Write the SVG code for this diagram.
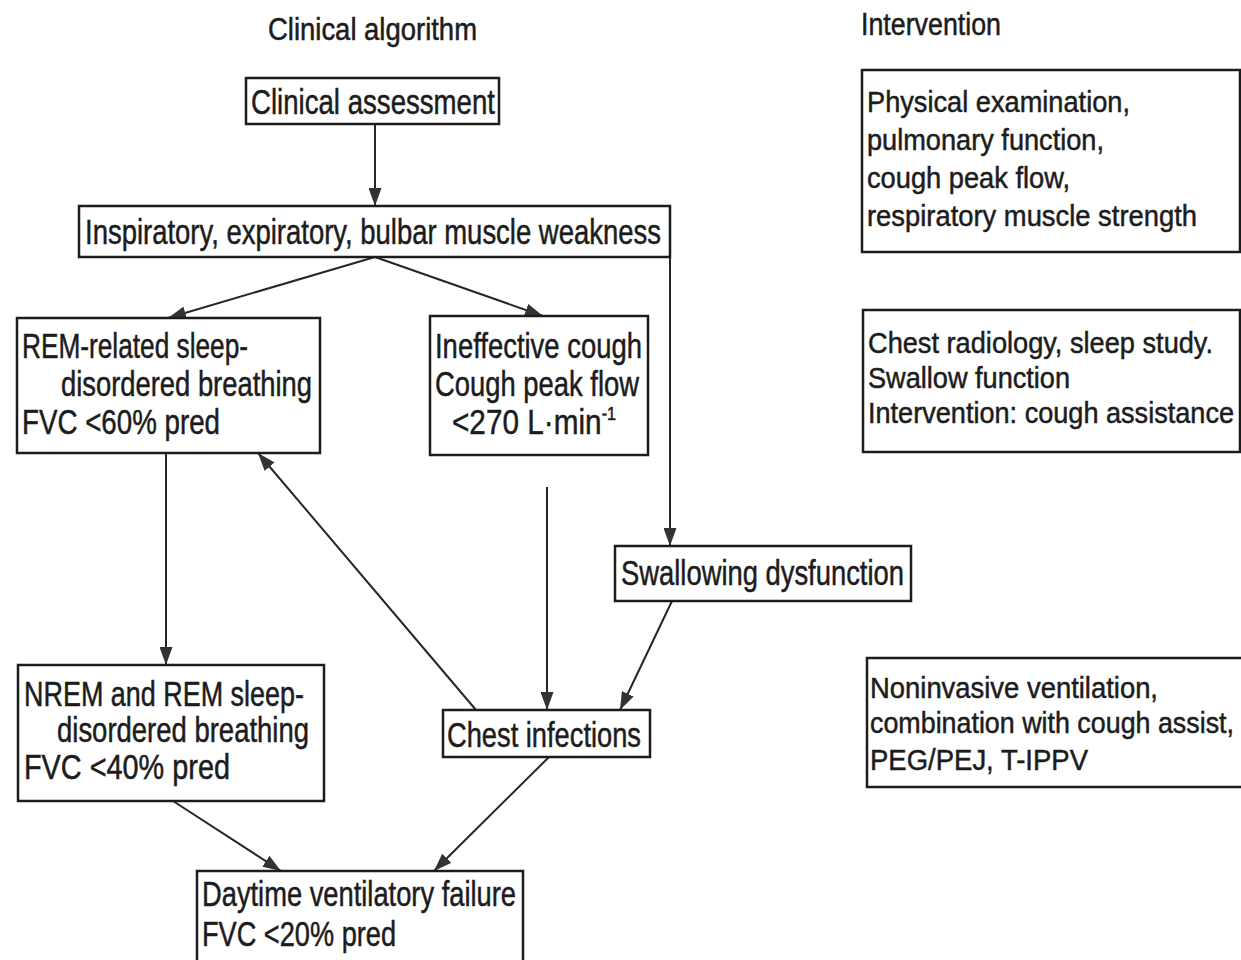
<svg xmlns="http://www.w3.org/2000/svg" width="1241" height="960" viewBox="0 0 1241 960">
<style>
text { font-family: "Liberation Sans Narrow", "Liberation Sans", Arial, sans-serif; fill: #1c1c1c; stroke: #1c1c1c; stroke-width: 0.5; }
.l { font-size: 35px; }
.r { font-size: 30px; }
.t { font-size: 31px; }
.box { fill: #ffffff; stroke: #1c1c1c; stroke-width: 2.5; }
.c { fill: none; stroke: #262626; stroke-width: 2; marker-end: url(#ah); }
</style>
<defs>
<marker id="ah" markerUnits="userSpaceOnUse" markerWidth="18" markerHeight="13" refX="18" refY="6.5" orient="auto">
<path d="M0,0 L18,6.5 L0,13 z" fill="#333333"/>
</marker>
</defs>
<rect width="1241" height="960" fill="#ffffff"/>

<g id="titles">
<text class="t" x="268" y="40" textLength="209" lengthAdjust="spacingAndGlyphs">Clinical algorithm</text>
<text class="t" x="861" y="35" textLength="140" lengthAdjust="spacingAndGlyphs">Intervention</text>
</g>

<g id="connectors">
<line class="c" x1="375" y1="124" x2="375" y2="206"/>
<line class="c" x1="375" y1="257" x2="168" y2="318"/>
<line class="c" x1="375" y1="257" x2="543" y2="316"/>
<line class="c" x1="670" y1="257" x2="670" y2="546"/>
<line class="c" x1="166" y1="453" x2="166" y2="665"/>
<line class="c" x1="476" y1="710" x2="258" y2="453"/>
<line class="c" x1="547" y1="487" x2="547" y2="710"/>
<line class="c" x1="672" y1="601" x2="620" y2="710"/>
<line class="c" x1="173" y1="801" x2="281" y2="871"/>
<line class="c" x1="549" y1="757" x2="434" y2="871"/>
</g>

<g id="clinical-assessment">
<rect class="box" x="246" y="78" width="253" height="46"/>
<text class="l" x="251" y="114" textLength="244" lengthAdjust="spacingAndGlyphs">Clinical assessment</text>
</g>

<g id="muscle-weakness">
<rect class="box" x="79" y="206" width="591" height="51"/>
<text class="l" x="85" y="244" textLength="576" lengthAdjust="spacingAndGlyphs">Inspiratory, expiratory, bulbar muscle weakness</text>
</g>

<g id="rem-sdb">
<rect class="box" x="17" y="318" width="303" height="135"/>
<text class="l" x="22" y="358" textLength="226" lengthAdjust="spacingAndGlyphs">REM-related sleep-</text>
<text class="l" x="61" y="396" textLength="251" lengthAdjust="spacingAndGlyphs">disordered breathing</text>
<text class="l" x="22" y="434" textLength="198" lengthAdjust="spacingAndGlyphs">FVC &lt;60% pred</text>
</g>

<g id="ineffective-cough">
<rect class="box" x="430" y="316" width="218" height="139"/>
<text class="l" x="435" y="358" textLength="207" lengthAdjust="spacingAndGlyphs">Ineffective cough</text>
<text class="l" x="435" y="396" textLength="204" lengthAdjust="spacingAndGlyphs">Cough peak flow</text>
<text class="l" x="452" y="434" textLength="164" lengthAdjust="spacingAndGlyphs">&lt;270 L·min<tspan dy="-14" font-size="19">-1</tspan></text>
</g>

<g id="swallowing">
<rect class="box" x="615" y="546" width="296" height="55"/>
<text class="l" x="621" y="585" textLength="283" lengthAdjust="spacingAndGlyphs">Swallowing dysfunction</text>
</g>

<g id="nrem-sdb">
<rect class="box" x="18" y="665" width="306" height="136"/>
<text class="l" x="24" y="706" textLength="280" lengthAdjust="spacingAndGlyphs">NREM and REM sleep-</text>
<text class="l" x="57" y="742" textLength="252" lengthAdjust="spacingAndGlyphs">disordered breathing</text>
<text class="l" x="24" y="779" textLength="206" lengthAdjust="spacingAndGlyphs">FVC  &lt;40% pred</text>
</g>

<g id="chest-infections">
<rect class="box" x="443" y="710" width="207" height="47"/>
<text class="l" x="447" y="747" textLength="194" lengthAdjust="spacingAndGlyphs">Chest infections</text>
</g>

<g id="daytime-failure">
<rect class="box" x="197" y="871" width="326" height="100"/>
<text class="l" x="202" y="906" textLength="314" lengthAdjust="spacingAndGlyphs">Daytime ventilatory failure</text>
<text class="l" x="202" y="946" textLength="194" lengthAdjust="spacingAndGlyphs">FVC &lt;20% pred</text>
</g>

<g id="intervention-1">
<rect class="box" x="862" y="70" width="378" height="182"/>
<text class="r" x="867" y="112" textLength="263" lengthAdjust="spacingAndGlyphs">Physical examination,</text>
<text class="r" x="867" y="150" textLength="237" lengthAdjust="spacingAndGlyphs">pulmonary function,</text>
<text class="r" x="867" y="188" textLength="203" lengthAdjust="spacingAndGlyphs">cough peak flow,</text>
<text class="r" x="867" y="226" textLength="330" lengthAdjust="spacingAndGlyphs">respiratory muscle strength</text>
</g>

<g id="intervention-2">
<rect class="box" x="863" y="310" width="377" height="142"/>
<text class="r" x="868" y="353" textLength="345" lengthAdjust="spacingAndGlyphs">Chest radiology, sleep study.</text>
<text class="r" x="868" y="388" textLength="202" lengthAdjust="spacingAndGlyphs">Swallow function</text>
<text class="r" x="868" y="423" textLength="366" lengthAdjust="spacingAndGlyphs">Intervention: cough assistance</text>
</g>

<g id="intervention-3">
<rect class="box" x="867" y="658" width="380" height="129"/>
<text class="r" x="870" y="698" textLength="288" lengthAdjust="spacingAndGlyphs">Noninvasive ventilation,</text>
<text class="r" x="870" y="733" textLength="364" lengthAdjust="spacingAndGlyphs">combination with cough assist,</text>
<text class="r" x="870" y="770" textLength="218" lengthAdjust="spacingAndGlyphs">PEG/PEJ, T-IPPV</text>
</g>
</svg>
